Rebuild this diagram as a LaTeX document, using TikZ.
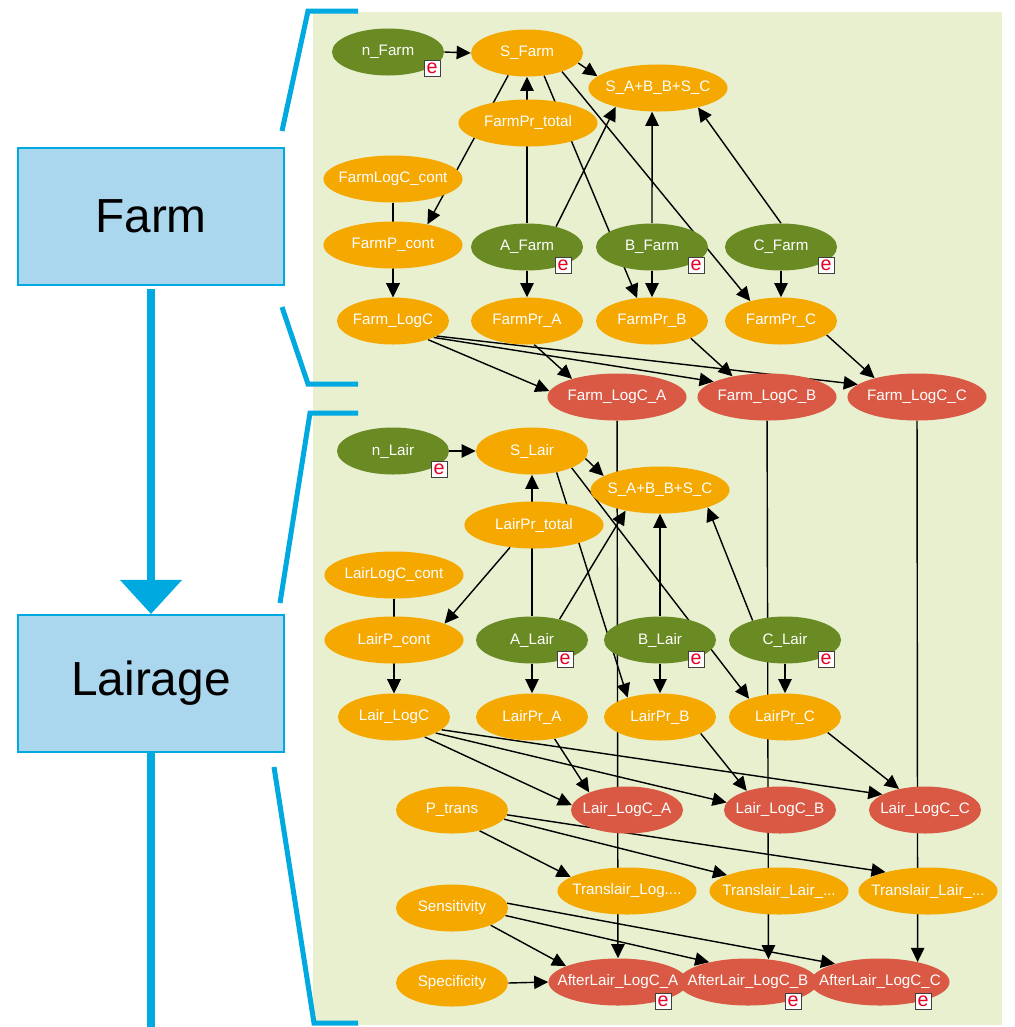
\documentclass[tikz,border=0pt]{standalone}
\usepackage{fontspec}
\setmainfont{Liberation Sans}
\usepackage{tikz}
\usetikzlibrary{arrows.meta, shapes.geometric}
\definecolor{netorange}{RGB}{245,168,0}
\definecolor{netgreen}{RGB}{106,139,36}
\definecolor{netred}{RGB}{217,89,69}
\definecolor{panelbg}{RGB}{232,240,208}
\definecolor{stageblue}{RGB}{0,169,224}
\definecolor{stagefill}{RGB}{171,215,238}
\definecolor{evred}{RGB}{230,0,40}
\pgfdeclarelayer{panel}
\pgfdeclarelayer{links}
\pgfsetlayers{panel,links,main}

\begin{document}
\begin{tikzpicture}[
  x=0.025cm, y=-0.025cm,
  var/.style={
    ellipse, text=white, inner xsep=-15pt, inner ysep=0pt,
    minimum width=2.8cm, minimum height=1.175cm,
    font=\fontsize{10.8}{12}\selectfont
  },
  widevar/.style={minimum width=3.475cm},
  ovar/.style={var, fill=netorange},
  gvar/.style={var, fill=netgreen},
  rvar/.style={var, fill=netred},
  ebox/.style={
    draw=black!75, fill=white, line width=0.7pt, minimum size=0.4cm,
    inner sep=0pt, text=evred, font=\fontsize{14}{14}\selectfont
  },
  conn/.style={-{Triangle[length=10pt, width=9.5pt]}, line width=1pt, black},
  stage/.style={
    draw=stageblue, line width=1.4pt, fill=stagefill,
    minimum width=6.65cm, minimum height=3.425cm,
    font=\fontsize{34}{40}\selectfont
  },
  flow/.style={stageblue, line width=0.2cm},
  brack/.style={stageblue, line width=0.125cm}
]
  \useasboundingbox (0,0) rectangle (1014,1027);
  \begin{pgfonlayer}{panel}
    \fill[panelbg] (313,12) rectangle (1002,1025);
  \end{pgfonlayer}

  \node[stage] (farm)    at (151,216.5) {Farm};
  \node[stage] (lairage) at (151,683.5) {Lairage};
  \coordinate (flowend) at (151,1027);
  \draw[flow, -{Triangle[length=0.85cm, width=1.5cm]}, shorten <=0.075cm] (farm) -- (lairage);
  \draw[flow] (lairage) -- (flowend);

  \draw[brack] (358,11) -- (308,11) -- (282,131);
  \draw[brack] (282,307) -- (308,384) -- (358,384);
  \draw[brack] (358,413) -- (310,413) -- (280,603);
  \draw[brack] (274,767) -- (314,1023) -- (358,1023);

  % farm network
  \node[gvar] (nFarm) at (388,52) {n\_Farm};
  \node[ovar] (SFarm) at (527,53) {S\_Farm};
  \node[ovar, widevar] (SumFarm) at (658,88) {S\_A+B\_B+S\_C};
  \node[ovar, widevar] (FarmPrTotal) at (528,123) {FarmPr\_total};
  \node[ovar, widevar] (FarmLogCcont) at (393,179) {FarmLogC\_cont};
  \node[ovar, widevar] (FarmPcont) at (393,245) {FarmP\_cont};
  \node[gvar] (AFarm) at (527,247) {A\_Farm};
  \node[gvar] (BFarm) at (652,247) {B\_Farm};
  \node[gvar] (CFarm) at (781,247) {C\_Farm};
  \node[ovar] (FarmLogC) at (393,321) {Farm\_LogC};
  \node[ovar] (FarmPrA) at (527,321) {FarmPr\_A};
  \node[ovar] (FarmPrB) at (652,321) {FarmPr\_B};
  \node[ovar] (FarmPrC) at (781,321) {FarmPr\_C};
  \node[rvar, widevar] (FarmLogCA) at (617,397) {Farm\_LogC\_A};
  \node[rvar, widevar] (FarmLogCB) at (767,397) {Farm\_LogC\_B};
  \node[rvar, widevar] (FarmLogCC) at (917,397) {Farm\_LogC\_C};

  % lairage network
  \node[gvar] (nLair) at (393,451) {n\_Lair};
  \node[ovar] (SLair) at (532,451) {S\_Lair};
  \node[ovar, widevar] (SumLair) at (660,490) {S\_A+B\_B+S\_C};
  \node[ovar, widevar] (LairPrTotal) at (534,525) {LairPr\_total};
  \node[ovar, widevar] (LairLogCcont) at (394,575) {LairLogC\_cont};
  \node[ovar, widevar] (LairPcont) at (394,640) {LairP\_cont};
  \node[gvar] (ALair) at (532,640) {A\_Lair};
  \node[gvar] (BLair) at (660,640) {B\_Lair};
  \node[gvar] (CLair) at (785,640) {C\_Lair};
  \node[ovar] (LairLogC) at (394,717) {Lair\_LogC};
  \node[ovar] (LairPrA) at (532,717) {LairPr\_A};
  \node[ovar] (LairPrB) at (660,717) {LairPr\_B};
  \node[ovar] (LairPrC) at (785,717) {LairPr\_C};
  \node[ovar] (Ptrans) at (452,810) {P\_trans};
  \node[rvar] (LairLogCA) at (627,810) {Lair\_LogC\_A};
  \node[rvar] (LairLogCB) at (780,810) {Lair\_LogC\_B};
  \node[rvar] (LairLogCC) at (925,810) {Lair\_LogC\_C};
  \node[ovar, widevar] (TransA) at (627,891) {Translair\_Log....};
  \node[ovar, widevar] (TransB) at (779,891) {Translair\_Lair\_...};
  \node[ovar, widevar] (TransC) at (928,891) {Translair\_Lair\_...};
  \node[ovar] (Sens) at (452,908) {Sensitivity};
  \node[ovar] (Spec) at (452,983) {Specificity};
  \node[rvar, widevar] (AfterA) at (618,982) {AfterLair\_LogC\_A};
  \node[rvar, widevar] (AfterB) at (748,982) {AfterLair\_LogC\_B};
  \node[rvar, widevar] (AfterC) at (880,982) {AfterLair\_LogC\_C};

  \node[ebox] (enFarm) at (432,68) {e};
  \node[ebox] (eAFarm) at (563,265) {e};
  \node[ebox] (eBFarm) at (696,265) {e};
  \node[ebox] (eCFarm) at (826,265) {e};
  \node[ebox] (enLair) at (439,469) {e};
  \node[ebox] (eALair) at (565,659) {e};
  \node[ebox] (eBLair) at (696,659) {e};
  \node[ebox] (eCLair) at (826,659) {e};
  \node[ebox] (eAfterA) at (663,1001) {e};
  \node[ebox] (eAfterB) at (793,1001) {e};
  \node[ebox] (eAfterC) at (923,1001) {e};

  \begin{pgfonlayer}{links}
    \draw[conn] (nFarm.east) -- (SFarm.west);
    \draw[conn] (SFarm.-11) -- (SumFarm.169);
    \draw[conn] (AFarm) -- (SFarm);
    \draw[conn] (SFarm.-130) -- (FarmPcont.31);
    \draw[conn] (SFarm.-53) -- (FarmPrB.123);
    \draw[conn] (SFarm.-28) -- (FarmPrC.147);
    \draw[conn] (AFarm.35) -- (SumFarm.-156);
    \draw[conn] (BFarm) -- (SumFarm.-104);
    \draw[conn] (CFarm.north) -- (SumFarm.-26);
    \draw[conn] (FarmLogCcont) -- (FarmLogC);
    \draw[conn] (FarmPcont) -- (FarmLogC);
    \draw[conn] (AFarm) -- (FarmPrA);
    \draw[conn] (BFarm) -- (FarmPrB);
    \draw[conn] (CFarm) -- (FarmPrC);
    \draw[conn] (FarmLogC.-28) -- (FarmLogCA.175);
    \draw[conn] (FarmLogC.-22) -- (FarmLogCB.164);
    \draw[conn] (FarmLogC.-19) -- (FarmLogCC.168);
    \draw[conn] (FarmPrA.-73) -- (FarmLogCA.158);
    \draw[conn] (FarmPrB.-24) -- (FarmLogCB.149);
    \draw[conn] (FarmPrC.-17) -- (FarmLogCC.156);
    \draw[conn] (FarmLogCA) -- (AfterA);
    \draw[conn] (FarmLogCB) -- (AfterB.48);
    \draw[conn] (FarmLogCC) -- (AfterC.28);

    \draw[conn] (nLair.east) -- (SLair.west);
    \draw[conn] (SLair.-8) -- (SumLair.166);
    \draw[conn] (ALair) -- (SLair);
    \draw[conn] (LairPrTotal.-137) -- (LairPcont.18);
    \draw[conn] (SLair.-41) -- (LairPrB.149);
    \draw[conn] (SLair.-23) -- (LairPrC.153);
    \draw[conn] (ALair.37) -- (SumLair.-149);
    \draw[conn] (BLair) -- (SumLair);
    \draw[conn] (CLair.149) -- (SumLair.-20);
    \draw[conn] (LairLogCcont) -- (LairLogC);
    \draw[conn] (LairPcont) -- (LairLogC);
    \draw[conn] (ALair) -- (LairPrA);
    \draw[conn] (BLair) -- (LairPrB);
    \draw[conn] (CLair) -- (LairPrC);
    \draw[conn] (LairLogC.-33) -- (LairLogCA.175);
    \draw[conn] (LairLogC.-21) -- (LairLogCB.172);
    \draw[conn] (LairLogC.-15) -- (LairLogCC.160);
    \draw[conn] (LairPrA.-44) -- (LairLogCA.155);
    \draw[conn] (LairPrB.-22) -- (LairLogCB.150);
    \draw[conn] (LairPrC.-20) -- (LairLogCC.141);
    \draw[conn] (Ptrans.-37) -- (TransA.166);
    \draw[conn] (Ptrans.-10) -- (TransB.163);
    \draw[conn] (Ptrans.-5) -- (TransC.156);
    \draw[conn] (Sens.-24) -- (AfterA.163);
    \draw[conn] (Sens.-8) -- (AfterB.153);
    \draw[conn] (Sens.5) -- (AfterC.158);
    \draw[conn] (Spec.east) -- (AfterA.west);
  \end{pgfonlayer}
\end{tikzpicture}
\end{document}
